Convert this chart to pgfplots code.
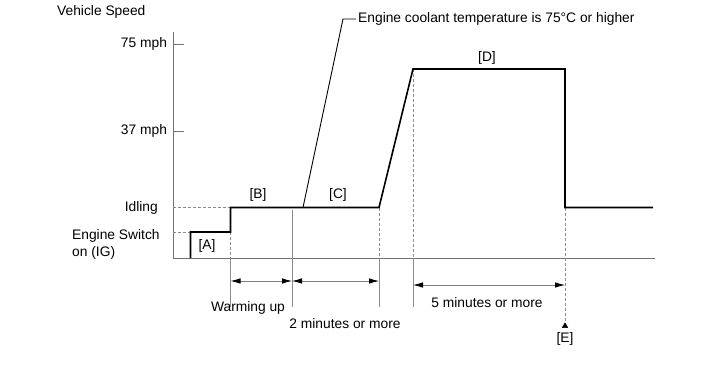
\documentclass[border=0pt]{standalone}
\usepackage{fontspec}
\setmainfont{Liberation Sans}
\usepackage{pgfplots}
\pgfplotsset{compat=1.18}
\usetikzlibrary{arrows.meta}
\begin{document}
\begin{tikzpicture}[font=\fontsize{13.8bp}{17bp}\selectfont,
  guide/.style={draw=black!45, line width=0.7bp, dash pattern=on 3bp off 2bp},
  vline/.style={draw=black!45, line width=0.8bp},
  dim/.style={draw=black!50, line width=0.8bp, {Latex[black,length=10bp,width=5.5bp]}-{Latex[black,length=10bp,width=5.5bp]}}]
\begin{axis}[
  scale only axis, width=482bp, height=226bp,
  xmin=173, xmax=655, ymin=0, ymax=226,
  axis x line*=bottom, axis y line*=left,
  axis line style={draw=black!55, line width=0.8bp},
  xtick=\empty, ytick={127,214}, yticklabels={37 mph,75 mph},
  tick align=inside, major tick length=11bp,
  tick style={draw=black!55, line width=0.8bp},
  yticklabel style={xshift=-2.5bp},
  clip=false,
]
% guide lines
\addplot[guide] coordinates {(173,50.5)(230.5,50.5)};
\addplot[guide] coordinates {(173,26)(190.5,26)};
\addplot[guide] coordinates {(230.5,26)(230.5,0)};
\addplot[vline] coordinates {(230.5,0)(230.5,-49)};
\addplot[vline] coordinates {(292,48)(292,-49)};
\addplot[guide] coordinates {(379,50.5)(379,0)};
\addplot[vline] coordinates {(379,0)(379,-49)};
\addplot[guide] coordinates {(413,189)(413,0)};
\addplot[vline] coordinates {(413,0)(413,-49)};
\addplot[guide] coordinates {(565,50.5)(565,-66)};
\addplot[black, only marks, mark=triangle*, mark size=3.2bp] coordinates {(565,-68)};
% dimension arrows
\addplot[dim] coordinates {(230.5,-23)(292,-23)};
\addplot[dim] coordinates {(292,-23)(379,-23)};
\addplot[dim] coordinates {(413,-27)(565,-27)};
% leader line
\addplot[black, line width=0.9bp] coordinates {(303,50.5)(343,239)(356,239)};
% speed profile
\addplot[black, line width=1.6bp] coordinates {(190.5,0)(190.5,26)(230.5,26)(230.5,50.5)(379,50.5)(413,189)(565,189)(565,50.5)(653,50.5)};
% texts
\node[anchor=west, inner sep=0] at (axis cs:57,246) {Vehicle Speed};
\node[anchor=east, inner sep=0] at (axis cs:158,50.5) {Idling};
\node[anchor=west, align=left, inner sep=0] at (axis cs:72,13.5) {Engine Switch\\on (IG)};
\node at (axis cs:207,12) {[A]};
\node at (axis cs:258,63) {[B]};
\node at (axis cs:338,63) {[C]};
\node at (axis cs:487,200) {[D]};
\node at (axis cs:565,-81) {[E]};
\node at (axis cs:248,-50) {Warming up};
\node at (axis cs:345,-66) {2 minutes or more};
\node at (axis cs:487,-45) {5 minutes or more};
\node[anchor=west, inner sep=0] at (axis cs:358,239) {Engine coolant temperature is 75°C or higher};
\coordinate (bl) at (axis cs:0,-123);
\coordinate (tr) at (axis cs:713,258);
\end{axis}
\pgfresetboundingbox
\path[use as bounding box] (bl) rectangle (tr);
\end{tikzpicture}
\end{document}
